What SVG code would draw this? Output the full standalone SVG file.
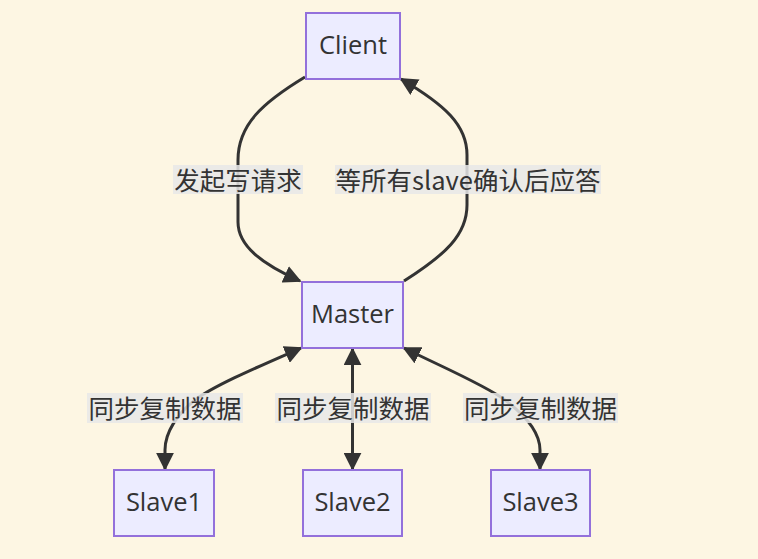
<svg xmlns="http://www.w3.org/2000/svg" width="758" height="559" viewBox="0 0 758 559">
<style>
.node rect{fill:#ECECFF;stroke:#9370DB;stroke-width:2}
.node text,.lbl text{font-family:"Open Sans","Noto Sans CJK SC",sans-serif;font-size:25.5px;fill:#333;text-anchor:middle;dominant-baseline:central}
.lbl text{font-family:"Noto Sans CJK SC",sans-serif;font-size:25.5px}
.edge{fill:none;stroke:#333;stroke-width:3}
.lbl rect{fill:#e8e8e8;fill-opacity:0.85}
</style>
<defs>
<marker id="arr" viewBox="0 0 10 10" refX="9" refY="5" markerUnits="userSpaceOnUse" markerWidth="18" markerHeight="18" orient="auto-start-reverse">
<path d="M0,0 L10,5 L0,10 z" fill="#333"/>
</marker>
</defs>
<rect width="758" height="559" fill="#FDF6E3"/>
<g id="connectors">
<path class="edge" d="M305,77 C262,103 238,125 238,160 L238,222 C238,246 262,264 300,281" marker-end="url(#arr)"/>
<path class="edge" d="M404,281 C445,255 467,235 467,205 L467,155 C467,125 445,105 401,79" marker-end="url(#arr)"/>
<path class="edge" d="M301,348 C260,366 215,385 195,400 C178,413 165,432 165,450 L165,469" marker-start="url(#arr)" marker-end="url(#arr)"/>
<path class="edge" d="M352.5,349 L352.5,469" marker-start="url(#arr)" marker-end="url(#arr)"/>
<path class="edge" d="M404,348 C440,366 485,385 505,400 C525,415 540,432 540,450 L540,469" marker-start="url(#arr)" marker-end="url(#arr)"/>
</g>
<g class="lbl" id="label-write">
<rect x="173" y="165" width="130" height="29"/>
<text x="238" y="178.5">发起写请求</text>
</g>
<g class="lbl" id="label-ack">
<rect x="335" y="165" width="266" height="29"/>
<text x="468" y="178.5">等所有slave确认后应答</text>
</g>
<g class="lbl" id="label-s1">
<rect x="87" y="393" width="156" height="30"/>
<text x="165" y="406.5">同步复制数据</text>
</g>
<g class="lbl" id="label-s2">
<rect x="275" y="393" width="156" height="30"/>
<text x="353" y="406.5">同步复制数据</text>
</g>
<g class="lbl" id="label-s3">
<rect x="463" y="393" width="155" height="30"/>
<text x="540.5" y="406.5">同步复制数据</text>
</g>
<g class="node" id="Client">
<rect x="306" y="13" width="94" height="66"/>
<text x="353" y="44">Client</text>
</g>
<g class="node" id="Master">
<rect x="302" y="282" width="101" height="66"/>
<text x="352.5" y="313">Master</text>
</g>
<g class="node" id="Slave1">
<rect x="114" y="470" width="100" height="66"/>
<text x="164" y="501">Slave1</text>
</g>
<g class="node" id="Slave2">
<rect x="303" y="470" width="99" height="66"/>
<text x="352.5" y="501">Slave2</text>
</g>
<g class="node" id="Slave3">
<rect x="491" y="470" width="99" height="66"/>
<text x="540.5" y="501">Slave3</text>
</g>
</svg>
